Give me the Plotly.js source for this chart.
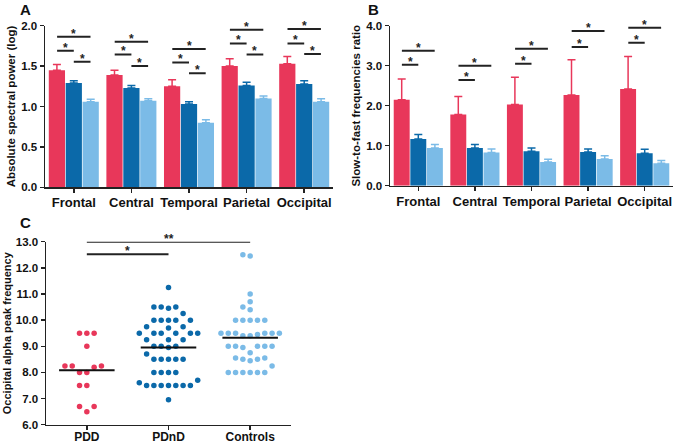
<!DOCTYPE html>
<html>
<head>
<meta charset="utf-8">
<script src="https://cdn.plot.ly/plotly-3.0.1.min.js"></script>
<style>html,body{margin:0;padding:0;background:#fff;}#chart{width:680px;height:444px;}</style>
</head>
<body>
<div id="chart"></div>
<script>
// ---------- DATA ----------
const regions = ['Frontal', 'Central', 'Temporal', 'Parietal', 'Occipital'];
const groups = ['PDD', 'PDnD', 'Controls'];

// Panel A: absolute spectral power (log), mean and upper SEM
const powerPDD = [1.45, 1.39, 1.25, 1.50, 1.53];
const powerPDDErr = [0.07, 0.06, 0.08, 0.09, 0.09];
const powerPDnD = [1.29, 1.23, 1.03, 1.26, 1.28];
const powerPDnDErr = [0.03, 0.03, 0.03, 0.04, 0.04];
const powerCtrl = [1.06, 1.07, 0.80, 1.10, 1.06];
const powerCtrlErr = [0.03, 0.025, 0.035, 0.03, 0.035];
// significance bracket heights (A)
const sigALong = [1.864, 1.802, 1.711, 1.951, 1.959];   // PDD vs Controls
const sigAShort1 = [1.691, 1.645, 1.546, 1.781, 1.781]; // PDD vs PDnD
const sigAShort2 = [1.555, 1.501, 1.410, 1.645, 1.649]; // PDnD vs Controls

// Panel B: slow-to-fast frequencies ratio
const ratioPDD = [2.15, 1.78, 2.03, 2.27, 2.42];
const ratioPDDErr = [0.52, 0.45, 0.68, 0.88, 0.81];
const ratioPDnD = [1.17, 0.94, 0.86, 0.84, 0.81];
const ratioPDnDErr = [0.11, 0.09, 0.08, 0.08, 0.10];
const ratioCtrl = [0.94, 0.83, 0.59, 0.67, 0.56];
const ratioCtrlErr = [0.09, 0.09, 0.07, 0.08, 0.07];
const sigBLong = [3.375, 3.0, 3.425, 3.867, 3.95];   // PDD vs Controls
const sigBShort = [3.025, 2.642, 3.05, 3.467, 3.575]; // PDD vs PDnD

// Panel C: occipital alpha peak frequency (individual subjects)
const peakPDD = [9.5, 9.5, 9.5, 9.0, 8.25, 8.2, 8.25, 8.25, 8.0, 8.0, 7.5, 7.5, 6.7, 6.7, 6.5];
const peakPDnD = [11.25, 10.5, 10.45, 10.5, 10.5, 10.25, 10.0, 10.0, 10.0, 10.0, 10.0,
  9.75, 9.7, 9.75, 9.5, 9.5, 9.5, 9.5, 9.5, 9.5, 9.25, 9.25, 9.25, 9.0, 8.95, 9.0, 9.0,
  8.7, 8.5, 8.5, 8.5, 8.5, 8.5, 8.0, 8.0, 8.0, 8.0, 7.7, 7.5, 7.5, 7.5, 7.5, 7.5, 7.5, 7.5, 7.6, 6.95];
const peakCtrl = [12.45, 12.5, 11.0, 10.7, 10.5, 10.4, 10.0, 10.0, 10.0, 10.0, 10.0,
  9.45, 9.5, 9.5, 9.4, 9.4, 9.5, 9.5, 9.5, 9.5, 9.0, 9.0, 9.0, 9.0, 9.0, 8.95, 8.75,
  8.5, 8.55, 8.45, 8.5, 8.55, 8.25, 8.0, 8.0, 8.0, 8.0, 8.0, 8.0];
const peakMeans = [8.08, 8.95, 9.33];
const sigCLevels = [12.52, 13.0];   // PDD vs PDnD, PDD vs Controls
const sigCLabels = ['*', '**'];

// ---------- STYLE ----------
const cRed = '#e8375a', cDark = '#0b69a9', cLight = '#7bbbe7';
const FONT = 'Liberation Sans, Arial, sans-serif';
const W = 680, H = 444;
const px = v => v / W, py = v => 1 - v / H;

// Axis pixel geometry
const domA = {x: [px(45), px(333)], y: [py(187.3), py(25.7)]};
const domB = {x: [px(390), px(673)], y: [py(185.7), py(25.7)]};
const domC = {x: [px(46), px(291)], y: [py(424.7), py(241.7)]};

function barTrace(y, err, color, xa, ya, name) {
  return {
    type: 'bar', x: regions, y: y, name: name, xaxis: xa, yaxis: ya,
    marker: {color: color, line: {width: 0}},
    error_y: {type: 'data', symmetric: false, array: err, arrayminus: err.map(() => 0),
      color: color, thickness: 1.5, width: 4}
  };
}

const traces = [
  barTrace(powerPDD, powerPDDErr, cRed, 'x', 'y', 'PDD'),
  barTrace(powerPDnD, powerPDnDErr, cDark, 'x', 'y', 'PDnD'),
  barTrace(powerCtrl, powerCtrlErr, cLight, 'x', 'y', 'Controls'),
  barTrace(ratioPDD, ratioPDDErr, cRed, 'x2', 'y2', 'PDD'),
  barTrace(ratioPDnD, ratioPDnDErr, cDark, 'x2', 'y2', 'PDnD'),
  barTrace(ratioCtrl, ratioCtrlErr, cLight, 'x2', 'y2', 'Controls')
];

// Beeswarm placement for panel C (computed from the values)
const cPxPerX = (291 - 46) / 3;
const cPxPerY = (424.7 - 241.7) / 7;
const dotStep = 7.3; // px between neighbouring dots
function swarm(vals, center) {
  const sorted = vals.slice().sort((a, b) => a - b);
  const placed = [];
  const xs = [], ys = [];
  sorted.forEach(v => {
    const cand = [0];
    for (let k = 1; k < 20; k++) { cand.push(-k); cand.push(k); }
    for (const k of cand) {
      const ok = placed.every(p => {
        const dx = (p.k - k) * dotStep, dy = (p.v - v) * cPxPerY;
        return Math.sqrt(dx * dx + dy * dy) >= 7.0;
      });
      if (ok) { placed.push({k: k, v: v}); xs.push(center + k * dotStep / cPxPerX); ys.push(v); break; }
    }
  });
  return {xs, ys};
}
const cData = [peakPDD, peakPDnD, peakCtrl];
const cColors = [cRed, cDark, cLight];
cData.forEach((vals, i) => {
  const s = swarm(vals, i);
  traces.push({type: 'scatter', mode: 'markers', x: s.xs, y: s.ys, xaxis: 'x3', yaxis: 'y3',
    name: groups[i], marker: {color: cColors[i], size: 5.5}});
});
peakMeans.forEach((m, i) => {
  traces.push({type: 'scatter', mode: 'lines', x: [i - 0.34, i + 0.34], y: [m, m],
    xaxis: 'x3', yaxis: 'y3', line: {color: '#111', width: 2}, name: groups[i] + ' mean'});
});

// Brackets and stars
const shapes = [], annotations = [];
const off = 0.29;
function bracket(xref, yref, x0, x1, y, label) {
  shapes.push({type: 'line', xref: xref, yref: yref, x0: x0, x1: x1, y0: y, y1: y,
    line: {color: '#222', width: 2}});
  annotations.push({xref: xref, yref: yref, x: (x0 + x1) / 2, y: y, text: label, showarrow: false,
    yanchor: 'bottom', yshift: -6, font: {family: FONT, size: 12, color: '#222', weight: 'bold'}});
}
regions.forEach((r, i) => {
  bracket('x', 'y', i - off, i + off, sigALong[i], '*');
  bracket('x', 'y', i - off, i, sigAShort1[i], '*');
  bracket('x', 'y', i, i + off, sigAShort2[i], '*');
  bracket('x2', 'y2', i - off, i + off, sigBLong[i], '*');
  bracket('x2', 'y2', i - off, i, sigBShort[i], '*');
});
bracket('x3', 'y3', 0, 1, sigCLevels[0], sigCLabels[0]);
bracket('x3', 'y3', 0, 2, sigCLevels[1], sigCLabels[1]);

// Panel letters
[['A', 25, 10], ['B', 373, 10], ['C', 25, 222]].forEach(p => {
  annotations.push({xref: 'paper', yref: 'paper', x: px(p[1]), y: py(p[2]), text: p[0],
    showarrow: false, xanchor: 'center', yanchor: 'middle',
    font: {family: FONT, size: 15, color: '#111', weight: 'bold'}});
});

const tickFont = {family: FONT, size: 11.5, color: '#111', weight: 'bold'};
const catFont = {family: FONT, size: 13, color: '#111', weight: 'bold'};
const titleFont = {family: FONT, size: 11.5, color: '#111', weight: 'bold'};
const axBase = {showline: true, linecolor: '#222', linewidth: 1.5, ticks: 'outside', ticklen: 4,
  tickwidth: 1.5, tickcolor: '#222', showgrid: false, zeroline: false, automargin: false, fixedrange: true};

const layout = {
  width: W, height: H, margin: {l: 0, r: 0, t: 0, b: 0},
  paper_bgcolor: '#fff', plot_bgcolor: 'rgba(0,0,0,0)', showlegend: false,
  barmode: 'group', bargap: 0.12, bargroupgap: 0.04,
  xaxis: Object.assign({}, axBase, {domain: domA.x, anchor: 'y', type: 'category',
    range: [-0.5, 4.5], tickfont: catFont, ticklabelstandoff: -1}),
  yaxis: Object.assign({}, axBase, {domain: domA.y, anchor: 'x', range: [0, 2],
    tickvals: [0, 0.5, 1, 1.5, 2], tickformat: '.1f', tickfont: tickFont,
    title: {text: 'Absolute spectral power (log)', font: titleFont, standoff: 3}}),
  xaxis2: Object.assign({}, axBase, {domain: domB.x, anchor: 'y2', type: 'category',
    range: [-0.5, 4.5], tickfont: catFont, ticklabelstandoff: -1}),
  yaxis2: Object.assign({}, axBase, {domain: domB.y, anchor: 'x2', range: [0, 4],
    tickvals: [0, 1, 2, 3, 4], tickformat: '.1f', tickfont: tickFont,
    title: {text: 'Slow-to-fast frequencies ratio', font: titleFont, standoff: 3}}),
  xaxis3: Object.assign({}, axBase, {domain: domC.x, anchor: 'y3', range: [-0.5, 2.5],
    tickvals: [0, 1, 2], ticktext: groups, ticklabelstandoff: -4,
    tickfont: {family: FONT, size: 12, color: '#111', weight: 'bold'}}),
  yaxis3: Object.assign({}, axBase, {domain: domC.y, anchor: 'x3', range: [6, 13],
    tickvals: [6, 7, 8, 9, 10, 11, 12, 13], tickformat: '.1f', tickfont: tickFont,
    title: {text: 'Occipital alpha peak frequency', font: {family: FONT, size: 11, color: '#111', weight: 'bold'}, standoff: 2}}),
  shapes: shapes, annotations: annotations
};

Plotly.newPlot('chart', traces, layout, {staticPlot: true, displayModeBar: false});
</script>
</body>
</html>
